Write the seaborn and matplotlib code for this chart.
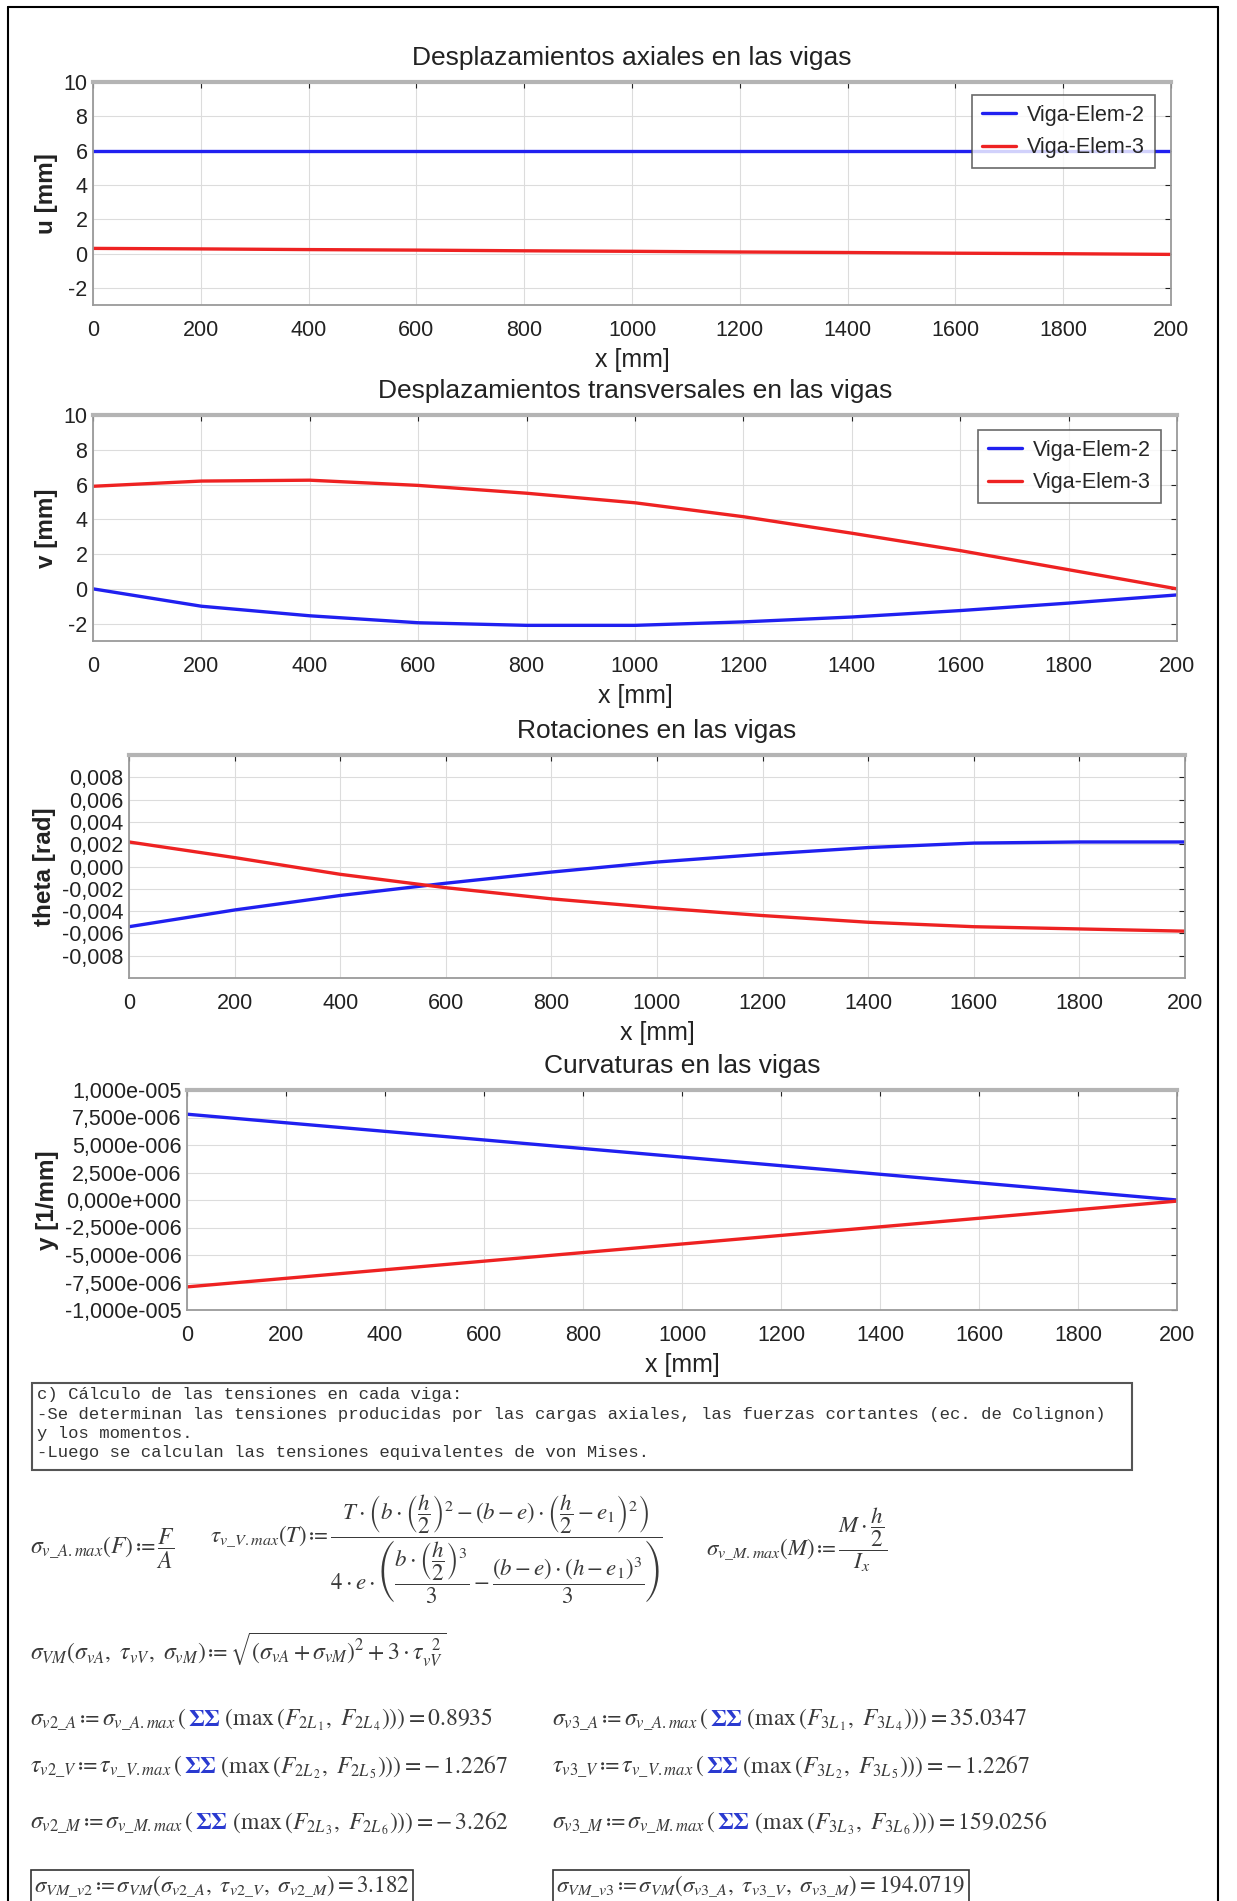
import matplotlib
matplotlib.use("Agg")
from matplotlib import pyplot as plt
from matplotlib.patches import Rectangle
from matplotlib.lines import Line2D
from matplotlib.offsetbox import TextArea, HPacker, AnnotationBbox
import seaborn as sns
import pandas as pd

# datos
x_mm = [0, 200, 400, 600, 800, 1000, 1200, 1400, 1600, 1800, 2000]
x_tick_labels = ["0", "200", "400", "600", "800", "1000", "1200", "1400", "1600", "1800", "200"]
series = ["Viga-Elem-2", "Viga-Elem-3"]

u_elem2 = [6.0, 6.0, 6.0, 6.0, 6.0, 6.0, 6.0, 6.0, 6.0, 6.0, 6.0]
u_elem3 = [0.30, 0.27, 0.23, 0.20, 0.16, 0.13, 0.09, 0.06, 0.02, -0.01, -0.05]
u_ticks = [-2, 0, 2, 4, 6, 8, 10]
u_tick_labels = ["-2", "0", "2", "4", "6", "8", "10"]

v_elem2 = [0.0, -1.0, -1.55, -1.95, -2.1, -2.1, -1.9, -1.62, -1.25, -0.82, -0.35]
v_elem3 = [5.9, 6.2, 6.25, 5.95, 5.5, 4.95, 4.15, 3.2, 2.2, 1.1, 0.0]
v_ticks = [-2, 0, 2, 4, 6, 8, 10]
v_tick_labels = ["-2", "0", "2", "4", "6", "8", "10"]

theta_elem2 = [-0.0054, -0.0039, -0.0026, -0.0015, -0.0005, 0.0004, 0.0011, 0.0017, 0.0021, 0.0022, 0.0022]
theta_elem3 = [0.0022, 0.0008, -0.0007, -0.0019, -0.0029, -0.0037, -0.0044, -0.0050, -0.0054, -0.0056, -0.0058]
theta_ticks = [-0.008, -0.006, -0.004, -0.002, 0.0, 0.002, 0.004, 0.006, 0.008]
theta_tick_labels = ["-0,008", "-0,006", "-0,004", "-0,002", "0,000", "0,002", "0,004", "0,006", "0,008"]

k_elem2 = [7.8e-6, 7.02e-6, 6.24e-6, 5.46e-6, 4.68e-6, 3.9e-6, 3.12e-6, 2.34e-6, 1.56e-6, 0.78e-6, 0.0]
k_elem3 = [-7.9e-6, -7.12e-6, -6.34e-6, -5.56e-6, -4.78e-6, -4.0e-6, -3.22e-6, -2.44e-6, -1.66e-6, -0.88e-6, -0.1e-6]
k_ticks = [-1e-5, -7.5e-6, -5e-6, -2.5e-6, 0.0, 2.5e-6, 5e-6, 7.5e-6, 1e-5]
k_tick_labels = ["-1,000e-005", "-7,500e-006", "-5,000e-006", "-2,500e-006", "0,000e+000",
                 "2,500e-006", "5,000e-006", "7,500e-006", "1,000e-005"]

nota_lineas = [
    "c) Cálculo de las tensiones en cada viga:",
    "-Se determinan las tensiones producidas por las cargas axiales, las fuerzas cortantes (ec. de Colignon)",
    "y los momentos.",
    "-Luego se calculan las tensiones equivalentes de von Mises.",
]
res_v2 = ["0.8935", "-1.2267", "-3.262", "3.182"]
res_v3 = ["35.0347", "-1.2267", "159.0256", "194.0719"]

sns.set_style("white")
plt.rcParams["font.family"] = ["Liberation Sans", "DejaVu Sans"]
plt.rcParams["mathtext.fontset"] = "stix"

W, H = 1237, 1901
fig = plt.figure(figsize=(W / 100, H / 100), dpi=100)
fig.patch.set_facecolor("white")

# marco de la pagina
for xs, ys in [([8, 8], [7, H]), ([8, 1218], [7, 7]), ([1218, 1218], [7, H])]:
    fig.add_artist(Line2D([x / W for x in xs], [1 - y / H for y in ys], color="black", lw=1.5))

colores = {"Viga-Elem-2": "#2020f0", "Viga-Elem-3": "#ee2222"}


def px_rect(left, top, right, bottom):
    return [left / W, 1 - bottom / H, (right - left) / W, (bottom - top) / H]


def panel(rect, title, ylabel, y2, y3, ylim, yticks, yticklabels, legend_anchor=None):
    ax = fig.add_axes(rect)
    df = pd.DataFrame({
        "x": x_mm + x_mm,
        "val": y2 + y3,
        "serie": [series[0]] * len(x_mm) + [series[1]] * len(x_mm),
    })
    sns.lineplot(data=df, x="x", y="val", hue="serie", palette=colores, linewidth=2.4,
                 ax=ax, legend=legend_anchor is not None)
    ax.set_xlim(0, 2000)
    ax.set_ylim(*ylim)
    ax.set_xticks(x_mm)
    ax.set_xticklabels(x_tick_labels)
    ax.set_yticks(yticks)
    ax.set_yticklabels(yticklabels)
    ax.grid(True, color="#dcdcdc", lw=0.8)
    ax.tick_params(direction="in", length=4, labelsize=15.5, colors="#222222", top=True, right=True)
    ax.tick_params(axis="x", pad=11)
    ax.tick_params(axis="y", pad=4)
    for s in ax.spines.values():
        s.set_color("#9a9a9a")
        s.set_linewidth(1.3)
    ax.spines["top"].set_linewidth(3)
    ax.spines["top"].set_color("#b4b4b4")
    ax.set_title(title, fontsize=19, color="#222222", pad=12)
    ax.set_xlabel("x [mm]", fontsize=18, color="#222222", labelpad=5)
    ax.set_ylabel(ylabel, fontsize=17.5, fontweight="bold", color="#222222", labelpad=4)
    if legend_anchor is not None:
        leg = ax.legend(loc="upper right", bbox_to_anchor=legend_anchor, borderaxespad=0,
                        fontsize=15.5, frameon=True, fancybox=False, handlelength=1.6,
                        handletextpad=0.5, labelspacing=0.55, borderpad=0.45)
        leg.get_frame().set_edgecolor("#444444")
        leg.get_frame().set_linewidth(1.2)
        leg.set_title(None)
    return ax


panel(px_rect(93, 82, 1171, 305), "Desplazamientos axiales en las vigas", "u [mm]",
      u_elem2, u_elem3, (-3, 10), u_ticks, u_tick_labels, legend_anchor=(0.985, 0.942))
panel(px_rect(93, 415, 1177, 641), "Desplazamientos transversales en las vigas", "v [mm]",
      v_elem2, v_elem3, (-3, 10), v_ticks, v_tick_labels, legend_anchor=(0.985, 0.934))
panel(px_rect(129, 755, 1185, 978), "Rotaciones en las vigas", "theta [rad]",
      theta_elem2, theta_elem3, (-0.01, 0.01), theta_ticks, theta_tick_labels)
panel(px_rect(187, 1090, 1177, 1310), "Curvaturas en las vigas", "y [1/mm]",
      k_elem2, k_elem3, (-1e-5, 1e-5), k_ticks, k_tick_labels)

# recuadro de texto
fig.add_artist(Rectangle((32 / W, 1 - 1470 / H), (1132 - 32) / W, (1470 - 1383) / H,
                         fill=False, edgecolor="#555555", lw=1.5))
for i, linea in enumerate(nota_lineas):
    fig.text(37 / W, 1 - (1395 + 19.3 * i) / H, linea, family="Liberation Mono",
             fontsize=12.4, color="#333333", va="center")

ct = "#3a3a3a"
DEF = r"\,≔\,"


def ftext(x, y, s, size=15, **kw):
    return fig.text(x / W, 1 - y / H, s, fontsize=size, color=ct, va="center", **kw)


def fila(x, y, partes, size=17):
    # trozos de mathtext con su color, alineados por la linea base
    hijos = [TextArea(t, textprops=dict(color=c, fontsize=size)) for t, c in partes]
    caja = HPacker(children=hijos, align="baseline", pad=0, sep=1)
    ab = AnnotationBbox(caja, (x / W, 1 - y / H), xycoords="figure fraction",
                        box_alignment=(0, 0.5), frameon=False, pad=0)
    fig.add_artist(ab)


ftext(30, 1549, r"$\sigma_{v\_A.max}(F)" + DEF + r"\dfrac{F}{A}$", size=17)
ftext(210, 1549, r"$\tau_{v\_V.max}(T)" + DEF + r"\dfrac{T\cdot\left(b\cdot\left(\dfrac{h}{2}\right)^2-(b-e)\cdot\left(\dfrac{h}{2}-e_1\right)^2\right)}"
                 r"{4\cdot e\cdot\left(\dfrac{b\cdot\left(\dfrac{h}{2}\right)^3}{3}-\dfrac{(b-e)\cdot\left(h-e_1\right)^3}{3}\right)}$", size=16.5)
ftext(706, 1540, r"$\sigma_{v\_M.max}(M)" + DEF + r"\dfrac{M\cdot\dfrac{h}{2}}{I_x}$", size=16.5)
ftext(30, 1649, r"$\sigma_{VM}\left(\sigma_{vA},\ \tau_{vV},\ \sigma_{vM}\right)" + DEF +
      r"\sqrt{\left(\sigma_{vA}+\sigma_{vM}\right)^2+3\cdot\tau_{vV}^{\ \ 2}}$", size=17)

filas = [
    (r"\sigma_{v%s\_A}" + DEF + r"\sigma_{v\_A.max}", "1", "4"),
    (r"\tau_{v%s\_V}" + DEF + r"\tau_{v\_V.max}", "2", "5"),
    (r"\sigma_{v%s\_M}" + DEF + r"\sigma_{v\_M.max}", "3", "6"),
]
ys = [1720, 1767, 1823]
for x0, num, res in [(30, "2", res_v2), (552, "3", res_v3)]:
    for (izq, a, b), yy, r in zip(filas, ys, res):
        p1 = r"$" + izq % num + r"\,(\,$"
        p2 = r"$\mathbf{\Sigma\Sigma}$"
        p3 = (r"$\,(\max\,(F_{%sL_{\,%s}},\ F_{%sL_{\,%s}})))=%s$"
              % (num, a, num, b, r.replace("-", "-\\,")))
        fila(x0, yy, [(p1, ct), (p2, "#2a3ad0"), (p3, ct)])
    ftext(x0 + 4, 1886, r"$\sigma_{VM\_v%s}" % num + DEF +
          r"\sigma_{VM}\left(\sigma_{v%s\_A},\ \tau_{v%s\_V},\ \sigma_{v%s\_M}\right)=%s$"
          % (num, num, num, res[3]), size=16.5,
          bbox=dict(boxstyle="square,pad=0.15", fc="white", ec="#333333", lw=1.2))

fig.savefig("out.png", dpi=100)
